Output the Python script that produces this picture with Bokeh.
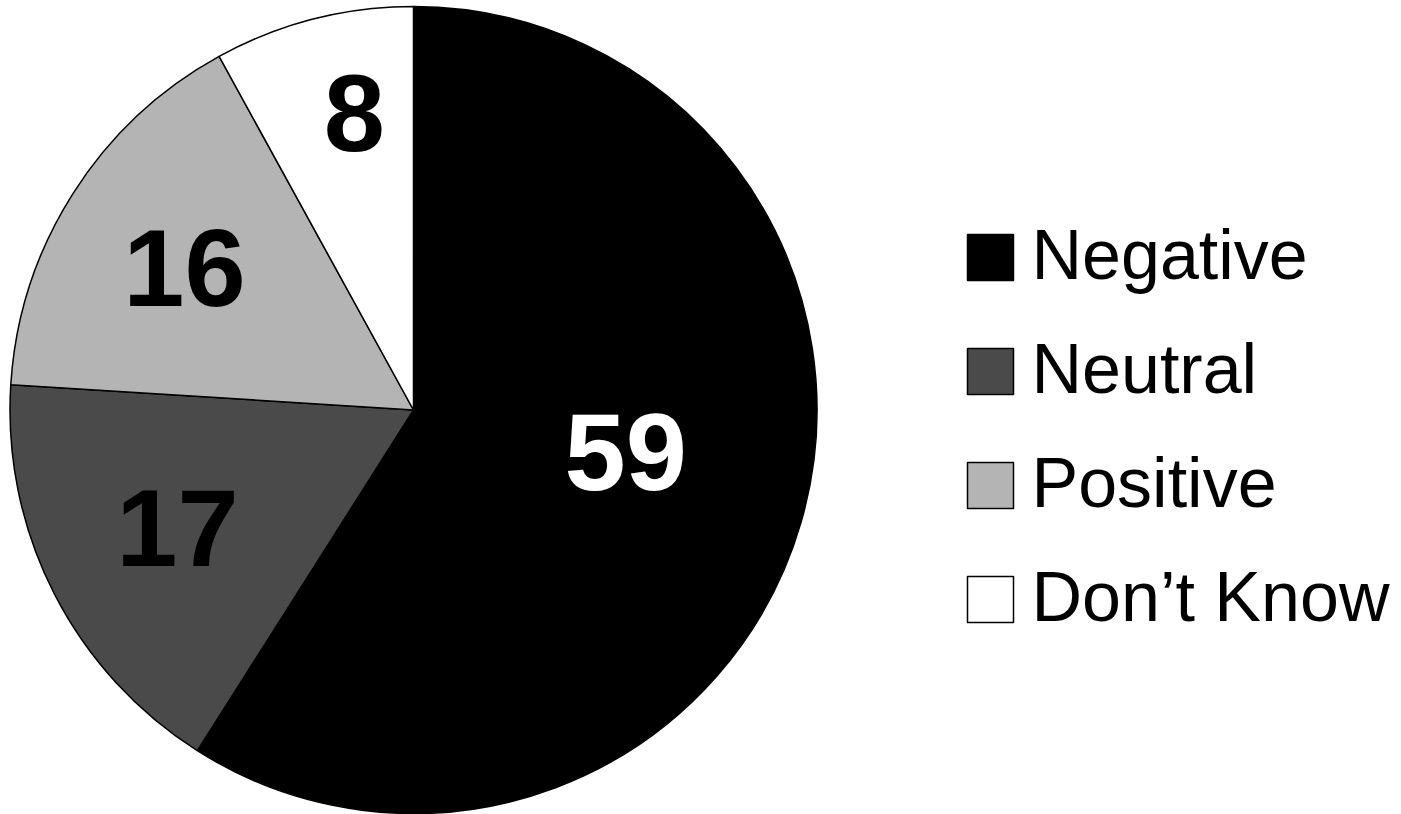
import math
from bokeh.plotting import figure
from bokeh.models import ColumnDataSource, Range1d
from bokeh.core.properties import value
from bokeh.embed import file_html
from bokeh.resources import INLINE

# ---- data ----
categories = ["Negative", "Neutral", "Positive", "Don\u2019t Know"]
values = [59, 17, 16, 8]
labels = ["59", "17", "16", "8"]
colors = ["#000000", "#4a4a4a", "#b4b4b4", "#ffffff"]
label_colors = ["#ffffff", "#000000", "#000000", "#000000"]

# ---- layout (pixel-like data units, y measured upward) ----
W, H = 1401, 814
CX, CY, R = 413, 404.5, 403.5
label_r = [0.538, 0.659, 0.662, 0.741]
label_da = [4.1, 0.4, 1.4, -3.0]  # degrees nudge from slice middle
LABEL_DY = 4      # small vertical text nudge
LEGEND_DY = 3

total = float(sum(values))
starts, ends, lx, ly = [], [], [], []
a = math.pi / 2
for v, fr, da in zip(values, label_r, label_da):
    span = 2 * math.pi * v / total
    starts.append(a)
    ends.append(a - span)
    mid = a - span / 2 + math.radians(da)
    lx.append(CX + fr * R * math.cos(mid))
    ly.append(CY + fr * R * math.sin(mid) + LABEL_DY)
    a -= span

src = ColumnDataSource(dict(cat=categories, val=values, start=starts, end=ends,
                            color=colors, lab=labels, lcol=label_colors, lx=lx, ly=ly))

p = figure(width=W, height=H, output_backend="svg", toolbar_location=None,
           x_range=Range1d(0, W), y_range=Range1d(0, H),
           x_axis_location=None, y_axis_location=None, min_border=0,
           outline_line_color=None, background_fill_color="white")
p.grid.visible = False

p.wedge(x=CX, y=CY, radius=R, start_angle="start", end_angle="end",
        direction="clock", fill_color="color", line_color="black",
        line_width=1.5, source=src)

p.text(x="lx", y="ly", text="lab", text_color="lcol", source=src,
       text_font=value("Liberation Sans"), text_font_style="bold",
       text_font_size="110px", text_align="center", text_baseline="middle")

# ---- legend ----
leg_x, leg_top, leg_step = 990, 557, 114
sq_y = [leg_top - i * leg_step for i in range(len(categories))]
ty = [y + LEGEND_DY for y in sq_y]
lsrc = ColumnDataSource(dict(cat=categories, color=colors, sy=sq_y, ty=ty))
p.rect(x=leg_x, y="sy", width=46, height=46, fill_color="color",
       line_color="black", line_width=1.5, source=lsrc)
p.text(x=leg_x + 41, y="ty", text="cat", source=lsrc,
       text_font=value("Liberation Sans"), text_font_size="70px",
       text_color="black", text_align="left", text_baseline="middle")

open("out.html", "w").write(file_html(p, INLINE))
